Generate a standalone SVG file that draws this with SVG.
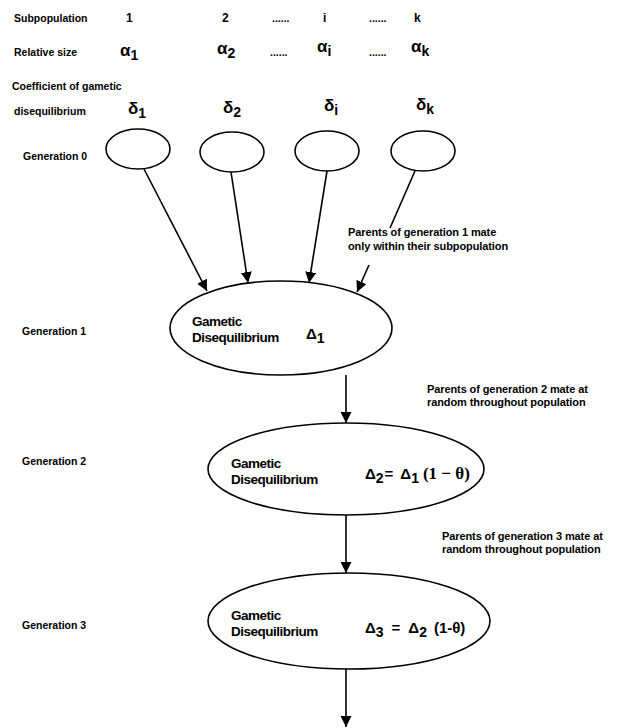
<svg xmlns="http://www.w3.org/2000/svg" width="644" height="728" viewBox="0 0 644 728">
<style>
.t{font-family:"Liberation Sans",Arial,sans-serif;font-weight:bold;font-size:10.5px;fill:#000}
.nt{font-family:"Liberation Sans",Arial,sans-serif;font-weight:bold;font-size:11px;letter-spacing:-0.1px;fill:#000}
.g{font-family:"Liberation Sans",Arial,sans-serif;font-weight:bold;font-size:17px;fill:#000}
.n{font-family:"Liberation Sans",Arial,sans-serif;font-weight:bold;font-size:12px;fill:#000}
.gt{font-family:"Liberation Sans",Arial,sans-serif;font-weight:bold;font-size:13.5px;letter-spacing:-0.5px;fill:#000}
.f{font-family:"Liberation Sans",Arial,sans-serif;font-weight:bold;font-size:15px;fill:#000}
.s{font-family:"Liberation Serif","Times New Roman",serif;font-weight:bold;font-size:17px;fill:#000}
.sub{font-size:14px}
.e{fill:none;stroke:#000;stroke-width:1.6}
.c{stroke:#000;stroke-width:1.6;fill:none}
</style>
<defs>
<marker id="ahb" viewBox="0 0 10 10" refX="10" refY="5" markerWidth="11" markerHeight="11" markerUnits="userSpaceOnUse" orient="auto">
<path d="M0,0 L10,5 L0,10 z" fill="#000"/>
</marker>
</defs>
<rect width="644" height="728" fill="#fff"/>
<g id="header">
<text class="t" x="14" y="22">Subpopulation</text>
<text class="n" x="126" y="22">1</text>
<text class="n" x="222" y="22">2</text>
<text class="t" x="272" y="22">......</text>
<text class="n" x="323" y="22">i</text>
<text class="t" x="369" y="22">......</text>
<text class="n" x="414" y="22">k</text>
<text class="t" x="14" y="56">Relative size</text>
<text class="g" x="120" y="56">α<tspan class="sub" dy="4">1</tspan></text>
<text class="g" x="217" y="54">α<tspan class="sub" dy="4">2</tspan></text>
<text class="t" x="270" y="56">......</text>
<text class="g" x="317" y="52">α<tspan class="sub" dy="4">i</tspan></text>
<text class="t" x="369" y="56">......</text>
<text class="g" x="411" y="52">α<tspan class="sub" dy="4">k</tspan></text>
<text class="t" x="12" y="90">Coefficient of gametic</text>
<text class="t" x="14" y="115">disequilibrium</text>
<text class="g" x="128" y="114">δ<tspan class="sub" dy="4">1</tspan></text>
<text class="g" x="223" y="113">δ<tspan class="sub" dy="4">2</tspan></text>
<text class="g" x="324" y="111">δ<tspan class="sub" dy="4">i</tspan></text>
<text class="g" x="416" y="110">δ<tspan class="sub" dy="4">k</tspan></text>
</g>
<g id="gen0">
<text class="t" x="23" y="160">Generation  0</text>
<ellipse id="sub1" class="e" cx="138" cy="149" rx="32" ry="20"/>
<ellipse id="sub2" class="e" cx="232" cy="152" rx="32" ry="20"/>
<ellipse id="sub3" class="e" cx="327" cy="151" rx="32" ry="20"/>
<ellipse id="sub4" class="e" cx="423" cy="151" rx="32" ry="20"/>
</g>
<g id="gen1">
<text class="t" x="22" y="335">Generation 1</text>
<ellipse class="e" cx="281" cy="328" rx="111" ry="47"/>
<text class="gt" x="192" y="326">Gametic</text>
<text class="gt" x="192" y="342">Disequilibrium</text>
<text class="f" x="306" y="339">Δ<tspan class="sub" dy="4">1</tspan></text>
</g>
<g id="gen2">
<text class="t" x="22" y="465">Generation 2</text>
<ellipse class="e" cx="346" cy="469" rx="138" ry="46"/>
<text class="gt" x="231" y="468">Gametic</text>
<text class="gt" x="231" y="484">Disequilibrium</text>
<text class="f" x="365" y="479">Δ<tspan class="sub" dy="4">2</tspan><tspan dy="-4" dx="1">=</tspan><tspan dx="7">Δ</tspan><tspan class="sub" dy="4">1</tspan><tspan class="s" dy="-4" dx="4">(1 − θ)</tspan></text>
</g>
<g id="gen3">
<text class="t" x="22" y="629">Generation  3</text>
<ellipse class="e" cx="349" cy="621" rx="141" ry="48"/>
<text class="gt" x="231" y="620">Gametic</text>
<text class="gt" x="231" y="636">Disequilibrium</text>
<text class="f" x="365" y="633">Δ<tspan class="sub" dy="4">3</tspan><tspan dy="-4" dx="8">=</tspan><tspan dx="8">Δ</tspan><tspan class="sub" dy="4">2</tspan><tspan dy="-4" dx="7">(1-θ)</tspan></text>
</g>
<g id="notes">
<text class="nt" x="348" y="236">Parents of generation 1 mate</text>
<text class="nt" x="348" y="250">only within their subpopulation</text>
<text class="nt" x="427" y="393">Parents of generation 2 mate at</text>
<text class="nt" x="427" y="406">random throughout population</text>
<text class="nt" x="442" y="540">Parents of generation 3 mate at</text>
<text class="nt" x="442" y="553">random throughout population</text>
</g>
<g id="connectors">
<line class="c" x1="144" y1="169" x2="207" y2="291" marker-end="url(#ahb)"/>
<line class="c" x1="231" y1="172" x2="248" y2="283" marker-end="url(#ahb)"/>
<line class="c" x1="327" y1="171" x2="309" y2="283" marker-end="url(#ahb)"/>
<line class="c" x1="415" y1="171" x2="390" y2="228"/>
<line class="c" x1="369" y1="265" x2="357" y2="292" marker-end="url(#ahb)"/>
<line class="c" x1="346" y1="375" x2="346" y2="423" marker-end="url(#ahb)"/>
<line class="c" x1="346" y1="515" x2="346" y2="573" marker-end="url(#ahb)"/>
<line class="c" x1="346" y1="669" x2="346" y2="727" marker-end="url(#ahb)"/>
</g>
</svg>
